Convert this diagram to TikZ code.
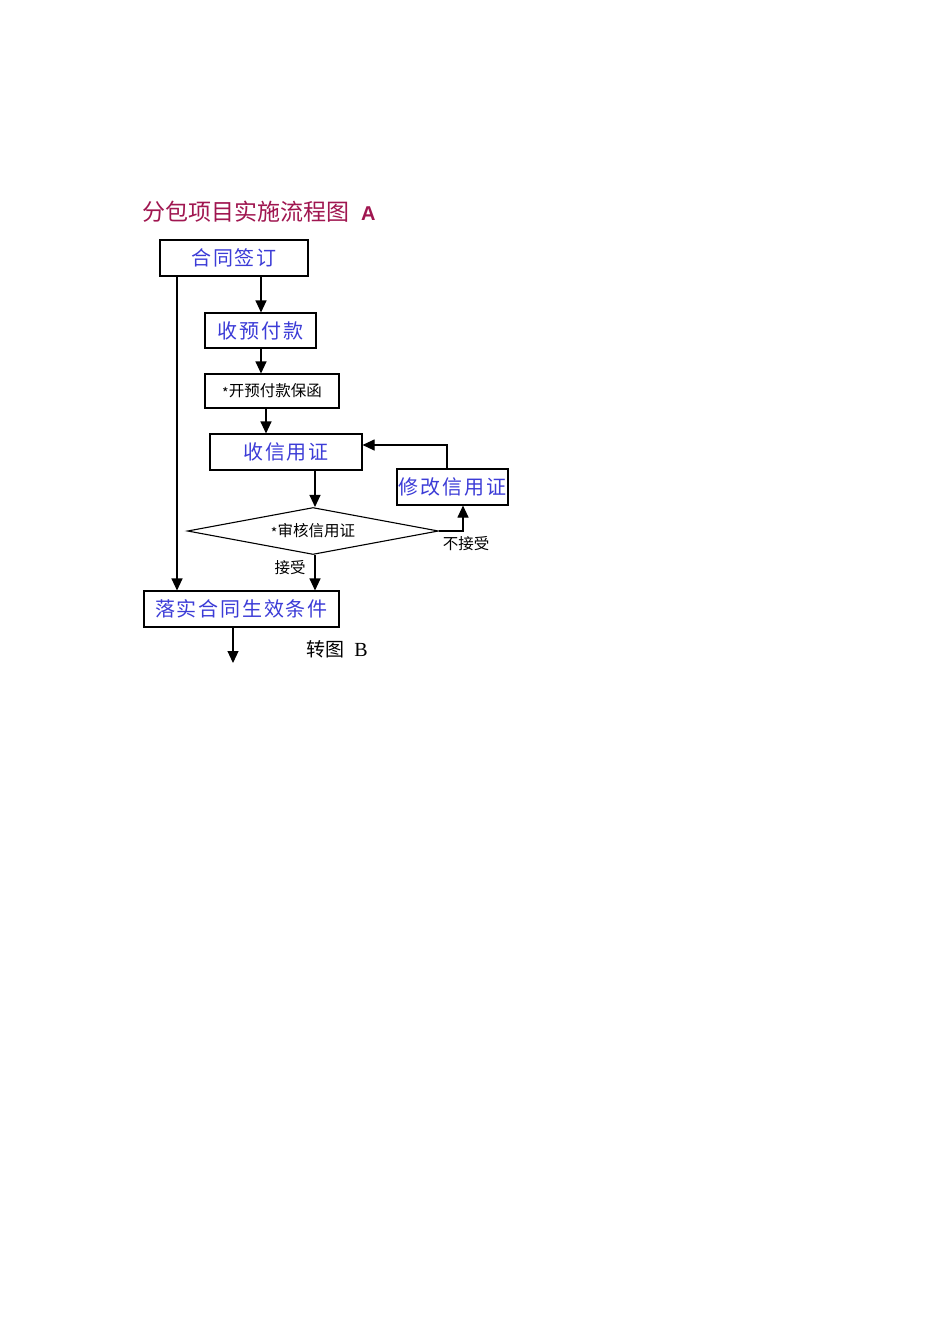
\documentclass[tikz,border=0pt]{standalone}
\usepackage{fontspec}
\setmainfont{Noto Sans CJK SC}
\newfontfamily\latinserif{Liberation Serif}
\newfontfamily\latinsans{Liberation Sans}
\newfontfamily\spacedcjk[LetterSpace=9]{Noto Sans CJK SC}
\usetikzlibrary{arrows.meta,shapes.geometric}
\definecolor{titlered}{RGB}{160,22,80}
\definecolor{boxblue}{RGB}{60,60,215}
\tikzset{
  stepbox/.style={draw=black, line width=1.1pt, inner sep=0pt, anchor=center},
  bluetext/.style={text=boxblue, font=\spacedcjk\fontsize{20}{22}\selectfont},
  blacktext/.style={text=black, font=\fontsize{15.5}{18}\selectfont},
  conn/.style={draw=black, line width=1.1pt},
  arr/.style={conn, -{Triangle[width=11pt,length=12pt]}},
  lbl/.style={text=black, font=\fontsize{15.5}{18}\selectfont, inner sep=0pt}
}
\newcommand{\smallstar}{\raisebox{-2pt}{\fontsize{14}{14}\selectfont *}}
\begin{document}
\begin{tikzpicture}[x=1pt,y=-1pt]
\useasboundingbox[fill=white] (0,0) rectangle (950,1344);

% title
\node[anchor=west, inner sep=0pt, text=titlered, font=\fontsize{23}{24}\selectfont] (title) at (142,212) {分包项目实施流程图\hspace{12pt}{\latinsans\bfseries\fontsize{20}{22}\selectfont A}};

% boxes
\node[stepbox, bluetext, minimum width=148pt, minimum height=36pt] (sign) at (234,258) {合同签订};
\node[stepbox, bluetext, minimum width=111pt, minimum height=35pt] (prepay) at (260.5,330.5) {收预付款};
\node[stepbox, blacktext, minimum width=134pt, minimum height=34pt] (guar) at (272,391) {\smallstar 开预付款保函};
\node[stepbox, bluetext, minimum width=152pt, minimum height=36pt] (lc) at (286,452) {收信用证};
\node[stepbox, bluetext, minimum width=111pt, minimum height=36pt] (modify) at (452.5,487) {修改信用证};
\node[draw=black, line width=1.1pt, diamond, aspect=5.3, inner sep=0pt, minimum width=251pt, minimum height=47pt, blacktext] (check) at (313,531) {\smallstar 审核信用证};
\node[stepbox, bluetext, minimum width=195pt, minimum height=36pt] (effect) at (241.5,609) {落实合同生效条件};

% labels
\node[lbl] (reject) at (466,544) {不接受};
\node[lbl] (accept) at (290,568) {接受};
\node[inner sep=0pt, text=black, font=\fontsize{19}{20}\selectfont] (toB) at (337,649) {转图\hspace{10pt}{\latinserif\fontsize{20}{22}\selectfont B}};

% connectors
\coordinate (endB) at (233,663);
\draw[arr] (sign.south -| 261,0) -- (prepay.north -| 261,0);
\draw[arr] (prepay.south -| 261,0) -- (guar.north -| 261,0);
\draw[arr] (guar.south -| 266,0) -- (lc.north -| 266,0);
\draw[arr] (lc.south -| 315,0) -- (check.north -| 315,0);
\draw[arr] (check.east) -- (check.east -| 463,0) -- (modify.south -| 463,0);
\draw[arr] (modify.north -| 447,0) -- (447,445) -- (lc.east |- 0,445);
\draw[arr] (check.south -| 315,0) -- (effect.north -| 315,0);
\draw[arr] (sign.south -| 177,0) -- (effect.north -| 177,0);
\draw[arr] (effect.south -| 233,0) -- (endB);
\end{tikzpicture}
\end{document}
